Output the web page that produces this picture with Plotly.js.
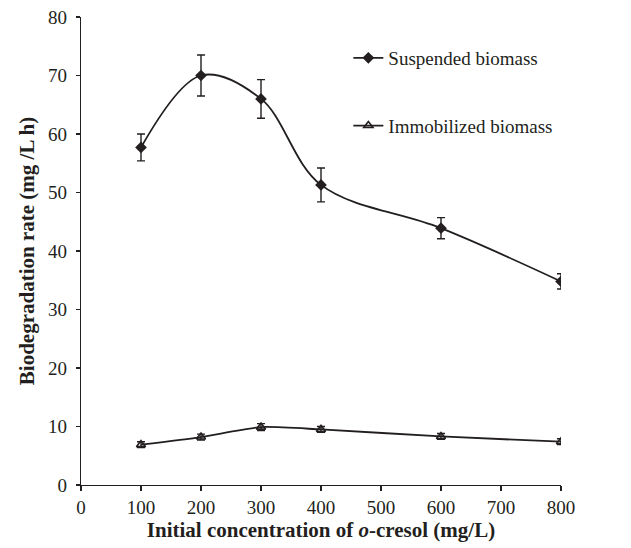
<!DOCTYPE html>
<html><head><meta charset="utf-8">
<script src="https://cdn.plot.ly/plotly-3.0.1.min.js"></script>
<style>body{margin:0;background:#fff}</style>
</head><body>
<div id="chart" style="width:631px;height:548px"></div>
<script>
const concentration = [100, 200, 300, 400, 600, 800];
const suspendedRate = [57.7, 70.0, 66.0, 51.3, 43.9, 34.8];
const suspendedErr  = [2.3, 3.5, 3.3, 2.9, 1.8, 1.3];
const immobilizedRate = [6.9, 8.2, 9.9, 9.5, 8.3, 7.4];
const immobilizedErr  = [0.5, 0.5, 0.6, 0.5, 0.5, 0.5];
const xTicks = [0, 100, 200, 300, 400, 500, 600, 700, 800];
const yTicks = [0, 10, 20, 30, 40, 50, 60, 70, 80];

const ink = '#231f20';
const font = 'Liberation Serif, Times New Roman, serif';

const traces = [
  {
    x: concentration, y: suspendedRate, name: 'Suspended biomass',
    type: 'scatter', mode: 'lines+markers', legendgroup: 'a',
    line: {color: ink, width: 1.8, shape: 'spline', smoothing: 1},
    marker: {symbol: 'diamond', size: 9, color: ink},
    error_y: {type: 'data', array: suspendedErr, visible: true, color: ink, thickness: 1.4, width: 4}
  },
  {
    x: concentration, y: immobilizedRate, name: 'Immobilized biomass',
    type: 'scatter', mode: 'lines+markers', legendgroup: 'b',
    line: {color: ink, width: 1.8, shape: 'spline', smoothing: 0.6},
    marker: {symbol: 'triangle-up-open', size: 8, color: ink, line: {width: 1.6, color: ink}},
    error_y: {type: 'data', array: immobilizedErr, visible: true, color: ink, thickness: 1.4, width: 4}
  }
];

const layout = {
  width: 631, height: 548,
  margin: {l: 81, r: 70, t: 17, b: 63},
  paper_bgcolor: '#fff', plot_bgcolor: '#fff',
  font: {family: font, color: ink, size: 19},
  showlegend: true,
  legend: {
    x: 0.557, xanchor: 'left', y: 0.953, yanchor: 'top',
    bgcolor: 'rgba(0,0,0,0)', tracegroupgap: 40,
    font: {family: font, size: 19, color: ink}
  },
  xaxis: {
    range: [0, 800], tickvals: xTicks, ticktext: xTicks.map(String),
    showgrid: false, zeroline: false, showline: true, linecolor: ink, linewidth: 1.2,
    ticks: 'outside', ticklen: 5, tickcolor: ink, tickwidth: 1.2,
    tickfont: {family: font, size: 19, color: ink},
    title: {text: '<b>Initial concentration of <i>o</i>-cresol (mg/L)</b>', font: {family: font, size: 21, color: ink}, standoff: 3}
  },
  yaxis: {
    range: [0, 80], tickvals: yTicks, ticktext: yTicks.map(String),
    showgrid: false, zeroline: false, showline: true, linecolor: ink, linewidth: 1.2,
    ticks: 'outside', ticklen: 4, tickcolor: ink, tickwidth: 1.2, ticklabelstandoff: 5,
    tickfont: {family: font, size: 19, color: ink},
    title: {text: '<b>Biodegradation rate (mg /L h)</b>', font: {family: font, size: 21, color: ink}, standoff: 7}
  }
};

Plotly.newPlot('chart', traces, layout, {displayModeBar: false, staticPlot: true});
</script>
</body></html>
